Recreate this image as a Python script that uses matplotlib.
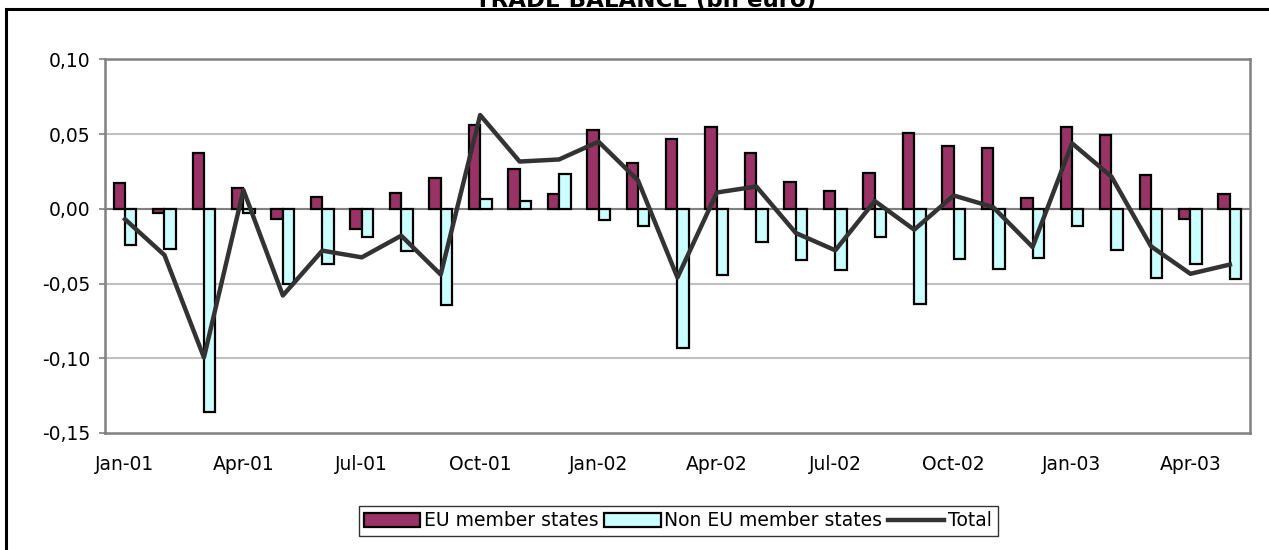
import matplotlib
matplotlib.use("Agg")
import matplotlib.pyplot as plt
from matplotlib.patches import Rectangle
from matplotlib.ticker import FuncFormatter

plt.rcParams['font.family'] = ['DejaVu Sans']

# Monthly trade balance, bn euro
months = ["Jan-01", "Feb-01", "Mar-01", "Apr-01", "May-01", "Jun-01", "Jul-01",
          "Aug-01", "Sep-01", "Oct-01", "Nov-01", "Dec-01", "Jan-02", "Feb-02",
          "Mar-02", "Apr-02", "May-02", "Jun-02", "Jul-02", "Aug-02", "Sep-02",
          "Oct-02", "Nov-02", "Dec-02", "Jan-03", "Feb-03", "Mar-03", "Apr-03",
          "May-03"]
eu = [0.017, -0.003, 0.037, 0.014, -0.007, 0.008, -0.0135, 0.0104, 0.0204,
      0.056, 0.0267, 0.010, 0.0527, 0.0304, 0.0464, 0.0544, 0.0376, 0.0178,
      0.0122, 0.0238, 0.0504, 0.0422, 0.0409, 0.0073, 0.0549, 0.0493, 0.0227,
      -0.0067, 0.0098]
non_eu = [-0.024, -0.027, -0.136, -0.0025, -0.050, -0.037, -0.019, -0.028,
          -0.0645, 0.0065, 0.0053, 0.0233, -0.0078, -0.0118, -0.093, -0.044,
          -0.0222, -0.034, -0.0407, -0.0191, -0.064, -0.0336, -0.040, -0.033,
          -0.0113, -0.0278, -0.0462, -0.0367, -0.0469]
total = [-0.007, -0.031, -0.0995, 0.0125, -0.058, -0.028, -0.0325, -0.018,
         -0.044, 0.0627, 0.0316, 0.033, 0.0449, 0.019, -0.046, 0.0109, 0.0149,
         -0.0162, -0.0278, 0.0052, -0.014, 0.0089, 0.0011, -0.0256, 0.0438,
         0.0215, -0.0251, -0.0435, -0.0373]

yticks = [-0.15, -0.10, -0.05, 0.00, 0.05, 0.10]

fig = plt.figure(figsize=(12.69, 5.5), dpi=100)
ax = fig.add_axes([105.3 / 1269, 1 - 433 / 550, (1249.6 - 105.3) / 1269, (433 - 59.3) / 550])

x = list(range(len(months)))
w = 0.29
b1 = ax.bar([i - w / 2 for i in x], eu, width=w, color="#993366",
            edgecolor="black", linewidth=1.6, zorder=3)
b2 = ax.bar([i + w / 2 for i in x], non_eu, width=w, color="#CCFFFF",
            edgecolor="black", linewidth=1.6, zorder=3)
ln, = ax.plot(x, total, color="#333333", linewidth=3.2, zorder=4)

ax.set_xlim(-0.5, 28.5)
ax.set_ylim(-0.15, 0.10)
ax.set_yticks(yticks)
ax.yaxis.set_major_formatter(FuncFormatter(lambda v, p: f"{v:.2f}".replace(".", ",")))
ax.set_xticks(x[::3])
ax.set_xticklabels(months[::3])
ax.tick_params(axis="x", length=0, labelsize=13.5, pad=16)
ax.tick_params(axis="y", length=4, width=1.2, color="#808080", labelsize=13.5, pad=6.5)

for v in yticks[1:-1]:
    ax.axhline(v, color="#C0C0C0", linewidth=1.5, zorder=1)
ax.axhline(0, color="#808080", linewidth=1.5, zorder=2)
for s in ax.spines.values():
    s.set_color("#808080")
    s.set_linewidth(1.8)

leg = fig.legend([b1, b2, ln], ["EU member states", "Non EU member states", "Total"],
                 loc="center", bbox_to_anchor=(678 / 1269, 1 - 521 / 550), ncol=3,
                 fontsize=13.5, frameon=True, fancybox=False, handlelength=3.0,
                 handleheight=0.75, handletextpad=0.2, columnspacing=0.3,
                 borderpad=0.3, borderaxespad=0)
leg.get_frame().set_edgecolor("black")
leg.get_frame().set_linewidth(1.0)

# outer chart frame, open to the right and bottom
fig.patches.append(Rectangle((6 / 1269, -0.1), 1.1, 1.1 - 9 / 550,
                             transform=fig.transFigure, fill=False,
                             edgecolor="black", linewidth=2.2, clip_on=False))
fig.text(646 / 1269, 1 - 6.5 / 550, "TRADE BALANCE (bn euro)", ha="center",
         va="baseline", fontsize=16.5, fontweight="bold")

fig.savefig("out.png", dpi=100, facecolor="white")
